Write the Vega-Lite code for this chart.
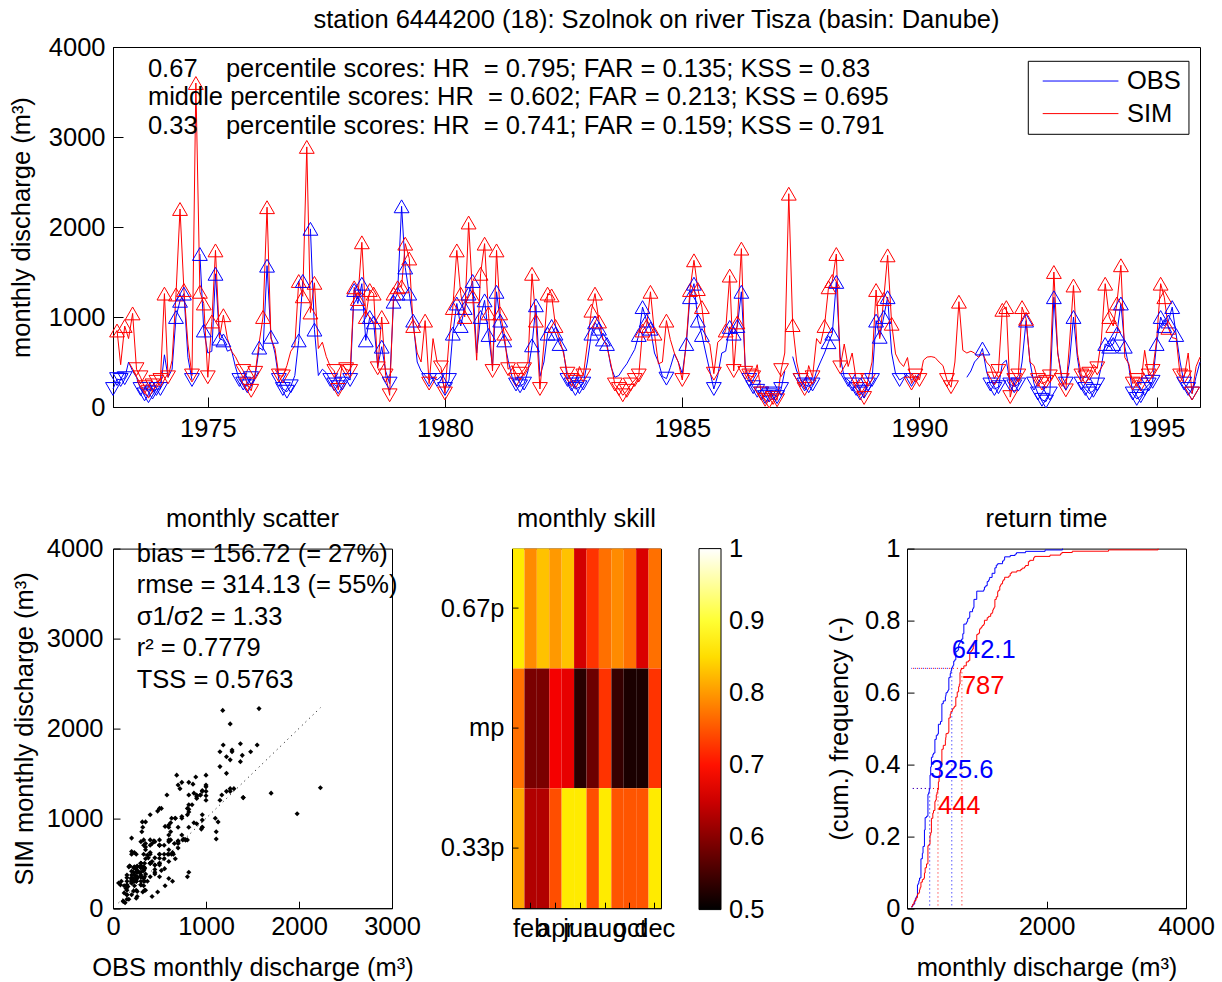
{
"$schema": "https://vega.github.io/schema/vega-lite/v6.json",
"background": "white",
"padding": {"left": 8, "top": 7, "right": 8, "bottom": 6},
"config": {
  "font": "Liberation Sans",
  "view": {"stroke": "#000", "strokeWidth": 1},
  "axis": {"grid": false, "labelFlush": false, "domainColor": "#000", "tickColor": "#000", "labelColor": "#000", "titleColor": "#000", "labelFontSize": 25.5, "titleFontSize": 25.5, "titleFontWeight": "normal", "tickSize": -8, "labelPadding": 8, "titlePadding": 10},
  "title": {"fontSize": 25.5, "fontWeight": "normal", "color": "#000", "offset": 10},
  "legend": {"labelFontSize": 25.5, "labelColor": "#000"}
},
"datasets": {
"ts": [
{"date":"1973-01-01","OBS":200,"SIM":780},{"date":"1973-02-01","OBS":310,"SIM":850},{"date":"1973-03-01","OBS":300,"SIM":470},{"date":"1973-04-01","OBS":320,"SIM":900},{"date":"1973-05-01","OBS":500,"SIM":760},{"date":"1973-06-01","OBS":400,"SIM":1040},{"date":"1973-07-01","OBS":330,"SIM":420},{"date":"1973-08-01","OBS":200,"SIM":330},{"date":"1973-09-01","OBS":140,"SIM":220},{"date":"1973-10-01","OBS":120,"SIM":170},{"date":"1973-11-01","OBS":160,"SIM":240},{"date":"1973-12-01","OBS":200,"SIM":280},
{"date":"1974-01-01","OBS":200,"SIM":300},{"date":"1974-02-01","OBS":580,"SIM":1260},{"date":"1974-03-01","OBS":330,"SIM":330},{"date":"1974-04-01","OBS":420,"SIM":520},{"date":"1974-05-01","OBS":1000,"SIM":1250},{"date":"1974-06-01","OBS":1180,"SIM":2200},{"date":"1974-07-01","OBS":1260,"SIM":1300},{"date":"1974-08-01","OBS":550,"SIM":700},{"date":"1974-09-01","OBS":300,"SIM":350},{"date":"1974-10-01","OBS":null,"SIM":3600},{"date":"1974-11-01","OBS":1700,"SIM":1280},{"date":"1974-12-01","OBS":850,"SIM":1150},
{"date":"1975-01-01","OBS":600,"SIM":330},{"date":"1975-02-01","OBS":620,"SIM":950},{"date":"1975-03-01","OBS":1480,"SIM":1740},{"date":"1975-04-01","OBS":760,"SIM":770},{"date":"1975-05-01","OBS":740,"SIM":1020},{"date":"1975-06-01","OBS":620,"SIM":760},{"date":"1975-07-01","OBS":640,"SIM":620},{"date":"1975-08-01","OBS":450,"SIM":560},{"date":"1975-09-01","OBS":300,"SIM":470},{"date":"1975-10-01","OBS":260,"SIM":400},{"date":"1975-11-01","OBS":230,"SIM":250},{"date":"1975-12-01","OBS":320,"SIM":180},
{"date":"1976-01-01","OBS":350,"SIM":380},{"date":"1976-02-01","OBS":660,"SIM":720},{"date":"1976-03-01","OBS":630,"SIM":1000},{"date":"1976-04-01","OBS":1570,"SIM":2220},{"date":"1976-05-01","OBS":780,"SIM":760},{"date":"1976-06-01","OBS":600,"SIM":650},{"date":"1976-07-01","OBS":300,"SIM":350},{"date":"1976-08-01","OBS":200,"SIM":340},{"date":"1976-09-01","OBS":170,"SIM":460},{"date":"1976-10-01","OBS":230,"SIM":620},{"date":"1976-11-01","OBS":350,"SIM":680},{"date":"1976-12-01","OBS":740,"SIM":1400},
{"date":"1977-01-01","OBS":1400,"SIM":1230},{"date":"1977-02-01","OBS":null,"SIM":2890},{"date":"1977-03-01","OBS":1980,"SIM":1050},{"date":"1977-04-01","OBS":860,"SIM":1380},{"date":"1977-05-01","OBS":350,"SIM":650},{"date":"1977-06-01","OBS":420,"SIM":720},{"date":"1977-07-01","OBS":380,"SIM":560},{"date":"1977-08-01","OBS":300,"SIM":450},{"date":"1977-09-01","OBS":250,"SIM":400},{"date":"1977-10-01","OBS":220,"SIM":190},{"date":"1977-11-01","OBS":260,"SIM":470},{"date":"1977-12-01","OBS":330,"SIM":420},
{"date":"1978-01-01","OBS":300,"SIM":400},{"date":"1978-02-01","OBS":1300,"SIM":1330},{"date":"1978-03-01","OBS":1150,"SIM":1200},{"date":"1978-04-01","OBS":1370,"SIM":1830},{"date":"1978-05-01","OBS":740,"SIM":1000},{"date":"1978-06-01","OBS":1000,"SIM":1300},{"date":"1978-07-01","OBS":940,"SIM":1260},{"date":"1978-08-01","OBS":450,"SIM":430},{"date":"1978-09-01","OBS":670,"SIM":1000},{"date":"1978-10-01","OBS":400,"SIM":350},{"date":"1978-11-01","OBS":260,"SIM":130},{"date":"1978-12-01","OBS":1170,"SIM":1260},
{"date":"1979-01-01","OBS":1260,"SIM":1330},{"date":"1979-02-01","OBS":2230,"SIM":1340},{"date":"1979-03-01","OBS":1550,"SIM":1815},{"date":"1979-04-01","OBS":1260,"SIM":1650},{"date":"1979-05-01","OBS":960,"SIM":900},{"date":"1979-06-01","OBS":500,"SIM":600},{"date":"1979-07-01","OBS":400,"SIM":500},{"date":"1979-08-01","OBS":350,"SIM":960},{"date":"1979-09-01","OBS":300,"SIM":260},{"date":"1979-10-01","OBS":330,"SIM":760},{"date":"1979-11-01","OBS":300,"SIM":500},{"date":"1979-12-01","OBS":340,"SIM":440},
{"date":"1980-01-01","OBS":200,"SIM":150},{"date":"1980-02-01","OBS":300,"SIM":740},{"date":"1980-03-01","OBS":815,"SIM":1100},{"date":"1980-04-01","OBS":1150,"SIM":1740},{"date":"1980-05-01","OBS":900,"SIM":1260},{"date":"1980-06-01","OBS":1100,"SIM":1000},{"date":"1980-07-01","OBS":1260,"SIM":2050},{"date":"1980-08-01","OBS":1400,"SIM":1230},{"date":"1980-09-01","OBS":600,"SIM":520},{"date":"1980-10-01","OBS":1000,"SIM":1480},{"date":"1980-11-01","OBS":1185,"SIM":1815},{"date":"1980-12-01","OBS":800,"SIM":1040},
{"date":"1981-01-01","OBS":450,"SIM":400},{"date":"1981-02-01","OBS":1280,"SIM":1740},{"date":"1981-03-01","OBS":960,"SIM":1040},{"date":"1981-04-01","OBS":740,"SIM":815},{"date":"1981-05-01","OBS":520,"SIM":420},{"date":"1981-06-01","OBS":330,"SIM":460},{"date":"1981-07-01","OBS":250,"SIM":300},{"date":"1981-08-01","OBS":230,"SIM":370},{"date":"1981-09-01","OBS":260,"SIM":420},{"date":"1981-10-01","OBS":400,"SIM":500},{"date":"1981-11-01","OBS":685,"SIM":1480},{"date":"1981-12-01","OBS":1130,"SIM":960},
{"date":"1982-01-01","OBS":340,"SIM":200},{"date":"1982-02-01","OBS":500,"SIM":700},{"date":"1982-03-01","OBS":815,"SIM":1260},{"date":"1982-04-01","OBS":900,"SIM":1240},{"date":"1982-05-01","OBS":815,"SIM":900},{"date":"1982-06-01","OBS":700,"SIM":750},{"date":"1982-07-01","OBS":630,"SIM":600},{"date":"1982-08-01","OBS":300,"SIM":370},{"date":"1982-09-01","OBS":250,"SIM":300},{"date":"1982-10-01","OBS":200,"SIM":280},{"date":"1982-11-01","OBS":220,"SIM":450},{"date":"1982-12-01","OBS":260,"SIM":350},
{"date":"1983-01-01","OBS":500,"SIM":700},{"date":"1983-02-01","OBS":815,"SIM":1070},{"date":"1983-03-01","OBS":940,"SIM":1260},{"date":"1983-04-01","OBS":870,"SIM":950},{"date":"1983-05-01","OBS":750,"SIM":760},{"date":"1983-06-01","OBS":700,"SIM":670},{"date":"1983-07-01","OBS":450,"SIM":480},{"date":"1983-08-01","OBS":330,"SIM":250},{"date":"1983-09-01","OBS":350,"SIM":200},{"date":"1983-10-01","OBS":420,"SIM":130},{"date":"1983-11-01","OBS":480,"SIM":180},{"date":"1983-12-01","OBS":560,"SIM":250},
{"date":"1984-01-01","OBS":640,"SIM":300},{"date":"1984-02-01","OBS":800,"SIM":350},{"date":"1984-03-01","OBS":1110,"SIM":850},{"date":"1984-04-01","OBS":960,"SIM":900},{"date":"1984-05-01","OBS":870,"SIM":1280},{"date":"1984-06-01","OBS":600,"SIM":815},{"date":"1984-07-01","OBS":500,"SIM":480},{"date":"1984-08-01","OBS":340,"SIM":500},{"date":"1984-09-01","OBS":315,"SIM":960},{"date":"1984-10-01","OBS":440,"SIM":750},{"date":"1984-11-01","OBS":590,"SIM":600},{"date":"1984-12-01","OBS":500,"SIM":500},
{"date":"1985-01-01","OBS":370,"SIM":300},{"date":"1985-02-01","OBS":700,"SIM":720},{"date":"1985-03-01","OBS":1220,"SIM":1300},{"date":"1985-04-01","OBS":1370,"SIM":1630},{"date":"1985-05-01","OBS":960,"SIM":1310},{"date":"1985-06-01","OBS":800,"SIM":1110},{"date":"1985-07-01","OBS":600,"SIM":740},{"date":"1985-08-01","OBS":400,"SIM":700},{"date":"1985-09-01","OBS":200,"SIM":370},{"date":"1985-10-01","OBS":350,"SIM":720},{"date":"1985-11-01","OBS":600,"SIM":760},{"date":"1985-12-01","OBS":620,"SIM":850},
{"date":"1986-01-01","OBS":890,"SIM":1460},{"date":"1986-02-01","OBS":815,"SIM":400},{"date":"1986-03-01","OBS":900,"SIM":940},{"date":"1986-04-01","OBS":1280,"SIM":1760},{"date":"1986-05-01","OBS":450,"SIM":380},{"date":"1986-06-01","OBS":300,"SIM":350},{"date":"1986-07-01","OBS":220,"SIM":330},{"date":"1986-08-01","OBS":180,"SIM":470},{"date":"1986-09-01","OBS":150,"SIM":150},{"date":"1986-10-01","OBS":110,"SIM":80},{"date":"1986-11-01","OBS":130,"SIM":60},{"date":"1986-12-01","OBS":150,"SIM":100},
{"date":"1987-01-01","OBS":110,"SIM":75},{"date":"1987-02-01","OBS":200,"SIM":410},{"date":"1987-03-01","OBS":400,"SIM":600},{"date":"1987-04-01","OBS":null,"SIM":2370},{"date":"1987-05-01","OBS":560,"SIM":910},{"date":"1987-06-01","OBS":400,"SIM":500},{"date":"1987-07-01","OBS":300,"SIM":300},{"date":"1987-08-01","OBS":250,"SIM":200},{"date":"1987-09-01","OBS":230,"SIM":460},{"date":"1987-10-01","OBS":250,"SIM":330},{"date":"1987-11-01","OBS":400,"SIM":760},{"date":"1987-12-01","OBS":500,"SIM":700},
{"date":"1988-01-01","OBS":600,"SIM":900},{"date":"1988-02-01","OBS":720,"SIM":1330},{"date":"1988-03-01","OBS":815,"SIM":1400},{"date":"1988-04-01","OBS":1390,"SIM":1700},{"date":"1988-05-01","OBS":555,"SIM":440},{"date":"1988-06-01","OBS":330,"SIM":700},{"date":"1988-07-01","OBS":300,"SIM":450},{"date":"1988-08-01","OBS":250,"SIM":600},{"date":"1988-09-01","OBS":200,"SIM":300},{"date":"1988-10-01","OBS":150,"SIM":200},{"date":"1988-11-01","OBS":170,"SIM":100},{"date":"1988-12-01","OBS":250,"SIM":300},
{"date":"1989-01-01","OBS":300,"SIM":500},{"date":"1989-02-01","OBS":960,"SIM":1300},{"date":"1989-03-01","OBS":780,"SIM":760},{"date":"1989-04-01","OBS":1000,"SIM":1200},{"date":"1989-05-01","OBS":1220,"SIM":1685},{"date":"1989-06-01","OBS":600,"SIM":925},{"date":"1989-07-01","OBS":370,"SIM":590},{"date":"1989-08-01","OBS":300,"SIM":500},{"date":"1989-09-01","OBS":330,"SIM":450},{"date":"1989-10-01","OBS":350,"SIM":550},{"date":"1989-11-01","OBS":300,"SIM":260},{"date":"1989-12-01","OBS":340,"SIM":350},
{"date":"1990-01-01","OBS":330,"SIM":300},{"date":"1990-02-01","OBS":null,"SIM":520},{"date":"1990-03-01","OBS":null,"SIM":555},{"date":"1990-04-01","OBS":null,"SIM":560},{"date":"1990-05-01","OBS":null,"SIM":550},{"date":"1990-06-01","OBS":null,"SIM":500},{"date":"1990-07-01","OBS":null,"SIM":460},{"date":"1990-08-01","OBS":null,"SIM":300},{"date":"1990-09-01","OBS":null,"SIM":220},{"date":"1990-10-01","OBS":null,"SIM":500},{"date":"1990-11-01","OBS":null,"SIM":1170},{"date":"1990-12-01","OBS":null,"SIM":630},
{"date":"1991-01-01","OBS":330,"SIM":600},{"date":"1991-02-01","OBS":400,"SIM":620},{"date":"1991-03-01","OBS":500,"SIM":600},{"date":"1991-04-01","OBS":550,"SIM":550},{"date":"1991-05-01","OBS":650,"SIM":600},{"date":"1991-06-01","OBS":400,"SIM":500},{"date":"1991-07-01","OBS":250,"SIM":450},{"date":"1991-08-01","OBS":200,"SIM":315},{"date":"1991-09-01","OBS":220,"SIM":400},{"date":"1991-10-01","OBS":480,"SIM":1080},{"date":"1991-11-01","OBS":520,"SIM":1110},{"date":"1991-12-01","OBS":250,"SIM":110},
{"date":"1992-01-01","OBS":230,"SIM":300},{"date":"1992-02-01","OBS":250,"SIM":350},{"date":"1992-03-01","OBS":500,"SIM":1110},{"date":"1992-04-01","OBS":960,"SIM":980},{"date":"1992-05-01","OBS":500,"SIM":500},{"date":"1992-06-01","OBS":260,"SIM":460},{"date":"1992-07-01","OBS":150,"SIM":300},{"date":"1992-08-01","OBS":80,"SIM":260},{"date":"1992-09-01","OBS":60,"SIM":280},{"date":"1992-10-01","OBS":150,"SIM":340},{"date":"1992-11-01","OBS":1220,"SIM":1500},{"date":"1992-12-01","OBS":600,"SIM":600},
{"date":"1993-01-01","OBS":340,"SIM":300},{"date":"1993-02-01","OBS":260,"SIM":185},{"date":"1993-03-01","OBS":500,"SIM":700},{"date":"1993-04-01","OBS":1000,"SIM":1350},{"date":"1993-05-01","OBS":550,"SIM":600},{"date":"1993-06-01","OBS":260,"SIM":350},{"date":"1993-07-01","OBS":200,"SIM":330},{"date":"1993-08-01","OBS":150,"SIM":370},{"date":"1993-09-01","OBS":180,"SIM":470},{"date":"1993-10-01","OBS":250,"SIM":430},{"date":"1993-11-01","OBS":450,"SIM":740},{"date":"1993-12-01","OBS":700,"SIM":1370},
{"date":"1994-01-01","OBS":670,"SIM":1000},{"date":"1994-02-01","OBS":700,"SIM":900},{"date":"1994-03-01","OBS":815,"SIM":1150},{"date":"1994-04-01","OBS":1150,"SIM":1575},{"date":"1994-05-01","OBS":670,"SIM":550},{"date":"1994-06-01","OBS":450,"SIM":480},{"date":"1994-07-01","OBS":150,"SIM":260},{"date":"1994-08-01","OBS":90,"SIM":300},{"date":"1994-09-01","OBS":120,"SIM":250},{"date":"1994-10-01","OBS":200,"SIM":630},{"date":"1994-11-01","OBS":250,"SIM":350},{"date":"1994-12-01","OBS":280,"SIM":400},
{"date":"1995-01-01","OBS":700,"SIM":740},{"date":"1995-02-01","OBS":1000,"SIM":1370},{"date":"1995-03-01","OBS":900,"SIM":1220},{"date":"1995-04-01","OBS":950,"SIM":880},{"date":"1995-05-01","OBS":1110,"SIM":770},{"date":"1995-06-01","OBS":800,"SIM":760},{"date":"1995-07-01","OBS":500,"SIM":350},{"date":"1995-08-01","OBS":260,"SIM":330},{"date":"1995-09-01","OBS":200,"SIM":600},{"date":"1995-10-01","OBS":150,"SIM":150},{"date":"1995-11-01","OBS":340,"SIM":450},{"date":"1995-12-01","OBS":500,"SIM":555}
],
"skill": [
{"month":"jan","level":"0.67p","skill":0.86},{"month":"feb","level":"0.67p","skill":0.79},{"month":"mar","level":"0.67p","skill":0.83},{"month":"apr","level":"0.67p","skill":0.80},{"month":"may","level":"0.67p","skill":0.83},{"month":"jun","level":"0.67p","skill":0.655},{"month":"jul","level":"0.67p","skill":0.725},{"month":"aug","level":"0.67p","skill":0.77},{"month":"sep","level":"0.67p","skill":0.79},{"month":"oct","level":"0.67p","skill":0.77},{"month":"nov","level":"0.67p","skill":0.66},{"month":"dec","level":"0.67p","skill":0.77},
{"month":"jan","level":"mp","skill":0.77},{"month":"feb","level":"mp","skill":0.59},{"month":"mar","level":"mp","skill":0.59},{"month":"apr","level":"mp","skill":0.68},{"month":"may","level":"mp","skill":0.67},{"month":"jun","level":"mp","skill":0.53},{"month":"jul","level":"mp","skill":0.58},{"month":"aug","level":"mp","skill":0.725},{"month":"sep","level":"mp","skill":0.54},{"month":"oct","level":"mp","skill":0.52},{"month":"nov","level":"mp","skill":0.52},{"month":"dec","level":"mp","skill":0.725},
{"month":"jan","level":"0.33p","skill":0.81},{"month":"feb","level":"0.33p","skill":0.63},{"month":"mar","level":"0.33p","skill":0.63},{"month":"apr","level":"0.33p","skill":0.745},{"month":"may","level":"0.33p","skill":0.86},{"month":"jun","level":"0.33p","skill":0.86},{"month":"jul","level":"0.33p","skill":0.745},{"month":"aug","level":"0.33p","skill":0.86},{"month":"sep","level":"0.33p","skill":0.75},{"month":"oct","level":"0.33p","skill":0.75},{"month":"nov","level":"0.33p","skill":0.75},{"month":"dec","level":"0.33p","skill":0.86}
],
"quant": [
{"key":"SIM","q":0.667,"v":787,"lab":"787"},{"key":"SIM","q":0.333,"v":444,"lab":"444"},
{"key":"OBS","q":0.667,"v":642.1,"lab":"642.1"},{"key":"OBS","q":0.333,"v":325.6,"lab":"325.6"}
],
"diag": [{"v": 60}, {"v": 2230}],
"legend": [{"key": "OBS"}, {"key": "SIM"}]
},
"bounds": "flush",
"spacing": 141.6,
"vconcat": [
{
  "width": 1087, "height": 360,
  "title": {"text": "station 6444200 (18): Szolnok on river Tisza (basin: Danube)", "offset": 2},
  "layer": [
    {"data": {"name": "ts"}, "transform": [{"fold": ["OBS", "SIM"], "as": ["key", "value"]}],
     "mark": {"type": "line", "strokeWidth": 1},
     "encoding": {
       "x": {"field": "date", "type": "temporal",
         "scale": {"domain": [{"year": 1973, "month": 1, "date": 1}, {"year": 1995, "month": 12, "date": 1}]},
         "axis": {"title": null, "format": "%Y", "tickSize": -10, "labelPadding": 19,
           "values": [{"year": 1975, "month": 1, "date": 1}, {"year": 1980, "month": 1, "date": 1}, {"year": 1985, "month": 1, "date": 1}, {"year": 1990, "month": 1, "date": 1}, {"year": 1995, "month": 1, "date": 1}]}},
       "y": {"field": "value", "type": "quantitative",
         "scale": {"domain": [0, 4000], "nice": false},
         "axis": {"title": "monthly discharge (m³)", "values": [0, 1000, 2000, 3000, 4000], "format": "d", "tickSize": -10, "labelPadding": 18, "titlePadding": 14}},
       "color": {"field": "key", "type": "nominal", "scale": {"domain": ["OBS", "SIM"], "range": ["#0000ff", "#ff0000"]}, "legend": null}}},
    {"data": {"name": "ts"}, "transform": [{"fold": ["OBS", "SIM"], "as": ["key", "value"]}, {"filter": "(datum.key == 'OBS' && datum.value > 642.1) || (datum.key == 'SIM' && datum.value > 787)"}],
     "mark": {"type": "point", "shape": "triangle-up", "filled": false, "size": 220, "strokeWidth": 1, "opacity": 1},
     "encoding": {
       "x": {"field": "date", "type": "temporal"},
       "y": {"field": "value", "type": "quantitative"},
       "color": {"field": "key", "type": "nominal", "legend": null}}},
    {"data": {"name": "ts"}, "transform": [{"fold": ["OBS", "SIM"], "as": ["key", "value"]}, {"filter": "(datum.key == 'OBS' && datum.value != null && datum.value < 325.6) || (datum.key == 'SIM' && datum.value < 444)"}],
     "mark": {"type": "point", "shape": "triangle-down", "filled": false, "size": 220, "strokeWidth": 1, "opacity": 1},
     "encoding": {
       "x": {"field": "date", "type": "temporal"},
       "y": {"field": "value", "type": "quantitative"},
       "color": {"field": "key", "type": "nominal", "legend": null}}},
    {"data": {"values": [{"t": "scores"}]},
     "mark": {"type": "text", "align": "left", "baseline": "alphabetic", "fontSize": 25.5, "lineHeight": 28.5, "color": "#000",
       "text": ["0.67\u00a0\u00a0\u00a0\u00a0percentile scores: HR\u00a0\u00a0= 0.795; FAR = 0.135; KSS = 0.83", "middle percentile scores: HR\u00a0\u00a0= 0.602; FAR = 0.213; KSS = 0.695", "0.33\u00a0\u00a0\u00a0\u00a0percentile scores: HR\u00a0\u00a0= 0.741; FAR = 0.159; KSS = 0.791"]},
     "encoding": {"x": {"datum": 117936000000, "type": "temporal"}, "y": {"datum": 3667, "type": "quantitative"}}},
    {"data": {"values": [{"t": "box"}]},
     "mark": {"type": "rect", "fill": "#fff", "stroke": "#000", "strokeWidth": 1},
     "encoding": {"x": {"datum": 703555200000, "type": "temporal"}, "x2": {"datum": 810432000000},
       "y": {"datum": 3841, "type": "quantitative"}, "y2": {"datum": 3030}}},
    {"data": {"name": "legend"}, "transform": [{"filter": "datum.key == 'OBS'"}],
     "mark": {"type": "rule", "strokeWidth": 1},
     "encoding": {"x": {"datum": 713145600000, "type": "temporal"}, "x2": {"datum": 763516800000},
       "y": {"datum": 3622, "type": "quantitative"}, "color": {"field": "key", "type": "nominal", "legend": null}}},
    {"data": {"name": "legend"}, "transform": [{"filter": "datum.key == 'SIM'"}],
     "mark": {"type": "rule", "strokeWidth": 1},
     "encoding": {"x": {"datum": 713145600000, "type": "temporal"}, "x2": {"datum": 763516800000},
       "y": {"datum": 3260, "type": "quantitative"}, "color": {"field": "key", "type": "nominal", "legend": null}}},
    {"data": {"name": "legend"}, "transform": [{"filter": "datum.key == 'OBS'"}],
     "mark": {"type": "text", "align": "left", "baseline": "middle", "fontSize": 25.5, "color": "#000"},
     "encoding": {"x": {"datum": 769219200000, "type": "temporal"}, "y": {"datum": 3622, "type": "quantitative"}, "text": {"field": "key", "type": "nominal"}}},
    {"data": {"name": "legend"}, "transform": [{"filter": "datum.key == 'SIM'"}],
     "mark": {"type": "text", "align": "left", "baseline": "middle", "fontSize": 25.5, "color": "#000"},
     "encoding": {"x": {"datum": 769219200000, "type": "temporal"}, "y": {"datum": 3260, "type": "quantitative"}, "text": {"field": "key", "type": "nominal"}}}
  ]
},
{
  "bounds": "flush",
  "spacing": 120,
  "hconcat": [
    {
      "width": 279, "height": 359.6,
      "title": {"text": "monthly scatter", "offset": 4},
      "layer": [
        {"data": {"name": "ts"},
         "transform": [{"filter": "datum.OBS != null && datum.SIM != null"}],
         "mark": {"type": "point", "shape": "diamond", "filled": true, "size": 26, "color": "#000", "opacity": 1},
         "encoding": {
           "x": {"field": "OBS", "type": "quantitative", "scale": {"domain": [0, 3000], "nice": false},
             "axis": {"title": "OBS monthly discharge (m³)", "values": [0, 1000, 2000, 3000], "format": "d", "tickSize": -7, "labelPadding": 13, "titlePadding": 16}},
           "y": {"field": "SIM", "type": "quantitative", "scale": {"domain": [0, 4000], "nice": false},
             "axis": {"title": "SIM monthly discharge (m³)", "values": [0, 1000, 2000, 3000, 4000], "format": "d", "tickSize": -7, "labelPadding": 17, "titlePadding": 9}}}},
        {"data": {"name": "diag"},
         "mark": {"type": "line", "strokeDash": [1, 4], "color": "#000", "strokeWidth": 1},
         "encoding": {"x": {"field": "v", "type": "quantitative"}, "y": {"field": "v", "type": "quantitative"}}},
        {"data": {"values": [{"t": "stats"}]},
         "mark": {"type": "text", "align": "left", "baseline": "middle", "fontSize": 25.5, "lineHeight": 31.5, "color": "#000",
           "text": ["bias = 156.72 (= 27%)", "rmse = 314.13 (= 55%)", "σ1/σ2 = 1.33", "r² = 0.7779", "TSS = 0.5763"]},
         "encoding": {"x": {"datum": 255, "type": "quantitative"}, "y": {"datum": 3945, "type": "quantitative"}}}
      ]
    },
    {
      "bounds": "flush",
      "spacing": 246,
      "hconcat": [
        {
          "width": 149, "height": 359.6,
          "title": {"text": "monthly skill", "offset": 16},
          "data": {"name": "skill"},
          "mark": {"type": "rect"},
          "encoding": {
            "x": {"field": "month", "type": "ordinal", "sort": ["jan", "feb", "mar", "apr", "may", "jun", "jul", "aug", "sep", "oct", "nov", "dec"],
              "scale": {"paddingInner": 0, "paddingOuter": 0},
              "axis": {"title": null, "values": ["feb", "apr", "jun", "aug", "oct", "dec"], "labelAngle": 0, "labelOverlap": false, "tickSize": -6, "labelPadding": 14}},
            "y": {"field": "level", "type": "ordinal", "sort": ["0.67p", "mp", "0.33p"],
              "scale": {"paddingInner": 0, "paddingOuter": 0},
              "axis": {"title": null, "tickSize": -6, "labelPadding": 14}},
            "color": {"field": "skill", "type": "quantitative",
              "scale": {"domain": [0.5, 0.6875, 0.875, 1], "range": ["#000000", "#ff0000", "#ffff00", "#ffffff"], "interpolate": "rgb"},
              "legend": {"type": "gradient", "direction": "vertical", "orient": "right", "offset": 38, "title": null, "gradientLength": 361, "gradientThickness": 22, "values": [0.5001, 0.6, 0.7, 0.8, 0.9, 0.9999], "labelExpr": "format(datum.value, '.1~f')", "labelFontSize": 25.5, "labelOffset": 8, "labelOverlap": false, "gradientStrokeColor": "#000", "gradientStrokeWidth": 1, "padding": 0}}
          }
        },
        {
          "width": 279, "height": 359.6,
          "title": {"text": "return time", "offset": 4},
          "layer": [
            {"data": {"name": "ts"},
             "transform": [{"fold": ["OBS", "SIM"], "as": ["key", "value"]}, {"filter": "datum.value != null"},
               {"window": [{"op": "cume_dist", "as": "cum"}], "sort": [{"field": "value"}], "groupby": ["key"]}],
             "mark": {"type": "line", "strokeWidth": 1, "interpolate": "step-after"},
             "encoding": {
               "x": {"field": "value", "type": "quantitative", "scale": {"domain": [0, 4000], "nice": false},
                 "axis": {"title": "monthly discharge (m³)", "values": [0, 2000, 4000], "format": "d", "tickSize": -7, "labelPadding": 13, "titlePadding": 16}},
               "y": {"field": "cum", "type": "quantitative", "scale": {"domain": [0, 1], "nice": false},
                 "axis": {"title": "(cum.) frequency (-)", "values": [0, 0.2, 0.4, 0.6, 0.8, 1], "format": "~g", "tickSize": -7, "labelPadding": 14, "titlePadding": 12}},
               "color": {"field": "key", "type": "nominal", "scale": {"domain": ["OBS", "SIM"], "range": ["#0000ff", "#ff0000"]}, "legend": null},
               "order": {"field": "value", "type": "quantitative"}}},
            {"data": {"name": "quant"},
             "mark": {"type": "rule", "strokeDash": [1, 3], "strokeWidth": 1},
             "encoding": {"x": {"field": "v", "type": "quantitative"}, "y": {"field": "q", "type": "quantitative"}, "y2": {"datum": 0},
               "color": {"field": "key", "type": "nominal", "legend": null}}},
            {"data": {"name": "quant"},
             "mark": {"type": "rule", "strokeDash": [1, 3], "strokeWidth": 1},
             "encoding": {"x": {"field": "v", "type": "quantitative"}, "x2": {"datum": 60}, "y": {"field": "q", "type": "quantitative"},
               "color": {"field": "key", "type": "nominal", "legend": null}}},
            {"data": {"name": "quant"}, "transform": [{"filter": "datum.key == 'OBS'"}],
             "mark": {"type": "text", "align": "left", "baseline": "middle", "fontSize": 25.5, "dy": -18},
             "encoding": {"x": {"field": "v", "type": "quantitative"}, "y": {"field": "q", "type": "quantitative"}, "text": {"field": "lab", "type": "nominal"},
               "color": {"field": "key", "type": "nominal", "legend": null}}},
            {"data": {"name": "quant"}, "transform": [{"filter": "datum.key == 'SIM'"}],
             "mark": {"type": "text", "align": "left", "baseline": "middle", "fontSize": 25.5, "dy": 18},
             "encoding": {"x": {"field": "v", "type": "quantitative"}, "y": {"field": "q", "type": "quantitative"}, "text": {"field": "lab", "type": "nominal"},
               "color": {"field": "key", "type": "nominal", "legend": null}}}
          ]
        }
      ]
    }
  ]
}
]
}
